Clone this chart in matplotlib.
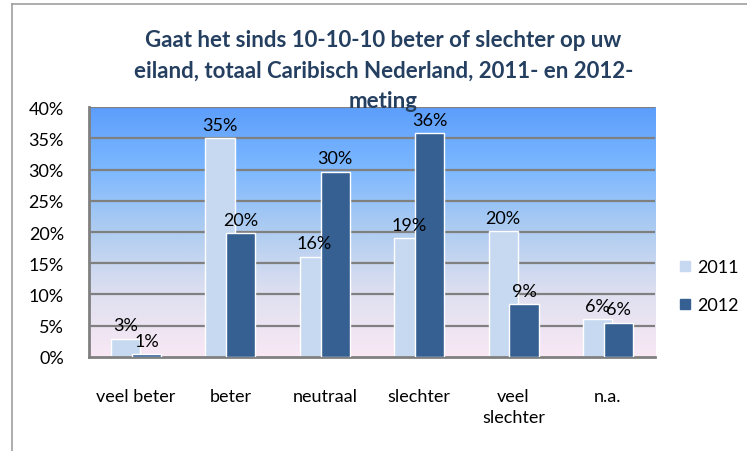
import matplotlib
matplotlib.use('Agg')
import matplotlib.pyplot as plt
import numpy as np
from matplotlib.colors import LinearSegmentedColormap
from matplotlib.lines import Line2D

plt.rcParams['font.family'] = ['Lato', 'DejaVu Sans']

# data
categories = ['veel beter', 'beter', 'neutraal', 'slechter', 'veel\nslechter', 'n.a.']
vals_2011 = [2.9, 35.0, 16.0, 19.0, 20.1, 6.0]
vals_2012 = [0.4, 19.8, 29.6, 35.8, 8.4, 5.5]
labels_2011 = ['3%', '35%', '16%', '19%', '20%', '6%']
labels_2012 = ['1%', '20%', '30%', '36%', '9%', '6%']
yticks = [0, 5, 10, 15, 20, 25, 30, 35, 40]

c2011 = '#c6d9f1'
c2012 = '#366092'
title_col = '#243f60'

fig = plt.figure(figsize=(7.47, 4.52), dpi=100)
ax = fig.add_axes([0.119, 0.208, 0.758, 0.553])

x = np.arange(len(categories))
# gradient background of the plot area
grad = LinearSegmentedColormap.from_list('bg', ['#f9e8f5', '#dfe0f0', '#b0cdf0', '#7db8ff', '#5c9efc'])
ax.imshow(np.linspace(0, 1, 256).reshape(-1, 1), cmap=grad, aspect='auto',
          extent=[-0.5, 5.5, 0, 40], origin='lower', zorder=0)

for t in yticks[1:]:
    ax.axhline(t, color='#808080', lw=1.6, zorder=1)

w = 0.31
off = 0.11
ax.bar(x - off, vals_2011, w, color=c2011, edgecolor='white', lw=1, zorder=2, label='2011')
ax.bar(x + off, vals_2012, w, color=c2012, edgecolor='white', lw=1, zorder=3, label='2012')

for i in range(len(x)):
    ax.text(x[i] - off, vals_2011[i] + 0.9, labels_2011[i], ha='center', va='bottom', fontsize=13, zorder=4)
    ax.text(x[i] + off, vals_2012[i] + 0.9, labels_2012[i], ha='center', va='bottom', fontsize=13, zorder=4)

ax.set_xlim(-0.5, 5.5)
ax.set_ylim(0, 40)
ax.set_yticks(yticks)
ax.set_yticklabels([f'{t}%' for t in yticks], fontsize=13)
ax.set_xticks(x)
ax.set_xticklabels(categories, fontsize=13, linespacing=1.45)
ax.tick_params(axis='x', length=0, pad=22)
ax.tick_params(axis='y', length=0, pad=18)
for s in ['top', 'right']:
    ax.spines[s].set_visible(False)
for s in ['left', 'bottom']:
    ax.spines[s].set_color('#808080')
    ax.spines[s].set_linewidth(2)

fig.text(0.513, 0.843, 'Gaat het sinds 10-10-10 beter of slechter op uw\neiland, totaal Caribisch Nederland, 2011- en 2012-\nmeting',
         ha='center', va='center', fontsize=16, fontweight='bold', color=title_col, linespacing=1.55,
         zorder=5)

handles = [Line2D([], [], marker='s', ls='', color=c2011, markersize=7.2),
           Line2D([], [], marker='s', ls='', color=c2012, markersize=7.2)]
fig.legend(handles, ['2011', '2012'], loc='center left', bbox_to_anchor=(0.9074, 0.365),
           frameon=False, fontsize=13, labelspacing=1.2, handletextpad=0.27, handlelength=0.8,
           borderpad=0, borderaxespad=0)

# chart frame (left and top edges)
fig.add_artist(Line2D([0.016, 0.016], [0, 0.989], color='#a0a0a0', lw=1.2))
fig.add_artist(Line2D([0.016, 1], [0.989, 0.989], color='#a0a0a0', lw=1.2))

fig.savefig('out.png', dpi=100)
